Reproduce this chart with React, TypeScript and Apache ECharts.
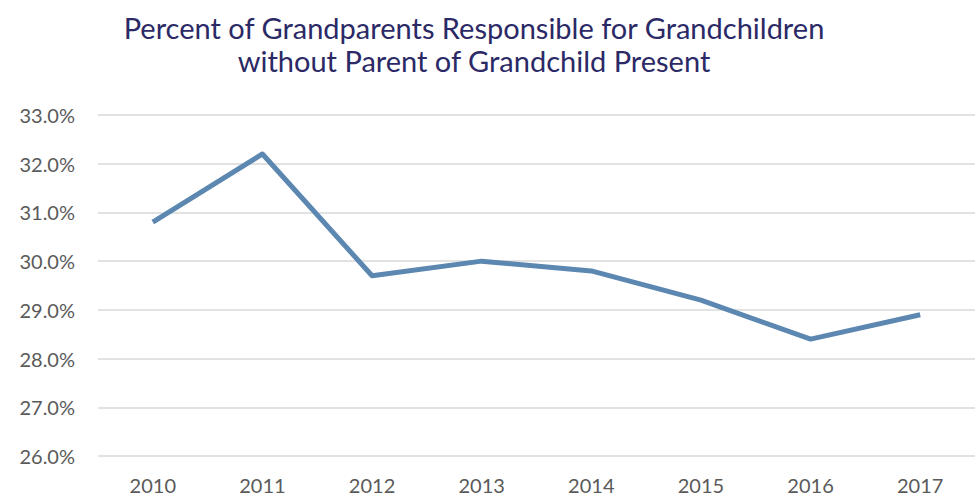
import React, { useEffect, useRef } from "react";
import * as echarts from "echarts";

const years = ["2010", "2011", "2012", "2013", "2014", "2015", "2016", "2017"];
const percentValues = [30.8, 32.2, 29.7, 30.0, 29.8, 29.2, 28.4, 28.9];
const titleLines = [
  "Percent of Grandparents Responsible for Grandchildren",
  "without Parent of Grandchild Present",
];

export default function App() {
  const ref = useRef<HTMLDivElement>(null);
  useEffect(() => {
    if (!ref.current) return;
    const chart = echarts.init(ref.current, null, { renderer: "svg" });
    chart.setOption({
      animation: false,
      title: {
        text: titleLines.join("\n"),
        left: 469,
        textAlign: "center",
        top: 6,
        textStyle: {
          fontFamily: "Lato",
          fontWeight: "normal",
          fontSize: 29,
          lineHeight: 33,
          color: "#2b2966",
        },
      },
      grid: { left: 98, right: 2, top: 115, bottom: 41, containLabel: false },
      xAxis: {
        type: "category",
        data: years,
        boundaryGap: true,
        axisLine: { show: false },
        axisTick: { show: false },
        axisLabel: {
          color: "#5a5a5a",
          fontFamily: "Lato",
          fontSize: 20,
          margin: 19,
        },
      },
      yAxis: {
        type: "value",
        min: 26,
        max: 33,
        interval: 1,
        axisLine: { show: false },
        axisTick: { show: false },
        splitLine: { lineStyle: { color: "#d9d9d9", width: 1.5 } },
        axisLabel: {
          color: "#5a5a5a",
          fontFamily: "Lato",
          fontSize: 20,
          margin: 23,
          formatter: (v: number) => v.toFixed(1) + "%",
        },
      },
      series: [
        {
          type: "line",
          data: percentValues,
          symbol: "none",
          lineStyle: { color: "#5b87b1", width: 5, join: "round" },
        },
      ],
    });
    return () => chart.dispose();
  }, []);
  return (
    <div
      ref={ref}
      style={{ position: "absolute", left: 0, top: 0, width: 977, height: 497 }}
    />
  );
}
